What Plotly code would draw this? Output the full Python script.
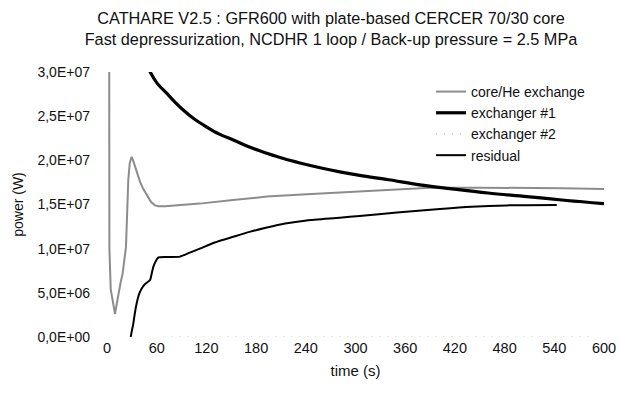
import plotly.graph_objects as go

# ---- data ----
x_ticks = [0, 60, 120, 180, 240, 300, 360, 420, 480, 540, 600]
y_ticks = [0, 5e6, 1e7, 1.5e7, 2e7, 2.5e7, 3e7]
y_tick_labels = ["0,0E+00", "5,0E+06", "1,0E+07", "1,5E+07", "2,0E+07", "2,5E+07", "3,0E+07"]

core_t = [2.6, 2.9, 4.5, 7.0, 9.7, 11.5, 13.7, 16.5, 18.9, 21.0, 22.9, 24.5, 25.7, 27.5, 29.8,
          31.5, 33.8, 36.5, 39.8, 43.5, 47.9, 53.0, 58.0, 62.0, 70.0, 84.0, 112.0, 152.0, 193.0,
          241.0, 281.0, 305.0, 350.0, 390.0, 450.0, 500.0, 550.0, 600.0]
core_p = [4.0e7, 1.0e7, 5.4e6, 3.8e6, 2.6e6, 3.6e6, 4.95e6, 6.2e6, 7.2e6, 8.6e6, 1.02e7, 1.45e7, 1.78e7, 1.97e7, 2.04e7,
          2.0e7, 1.93e7, 1.85e7, 1.76e7, 1.68e7, 1.61e7, 1.53e7, 1.49e7, 1.48e7, 1.48e7, 1.49e7, 1.51e7, 1.55e7, 1.59e7,
          1.615e7, 1.635e7, 1.645e7, 1.67e7, 1.69e7, 1.69e7, 1.69e7, 1.685e7, 1.675e7]

ex1_t = [51.0, 60.0, 72.0, 82.0, 92.0, 105.0, 120.0, 135.0, 152.5, 172.0, 193.0, 213.0, 233.0, 260.0,
         281.0, 305.0, 340.0, 380.0, 414.0, 460.0, 507.0, 555.0, 600.0]
ex1_p = [3.02e7, 2.88e7, 2.76e7, 2.66e7, 2.57e7, 2.47e7, 2.38e7, 2.30e7, 2.23e7, 2.15e7, 2.08e7, 2.02e7, 1.97e7, 1.91e7,
         1.87e7, 1.83e7, 1.78e7, 1.72e7, 1.68e7, 1.63e7, 1.59e7, 1.545e7, 1.51e7]

ex2_t = [68.0, 585.0]
ex2_p = [0.0, 0.0]

res_t = [28.6, 30.0, 31.8, 33.8, 35.8, 38.5, 41.9, 46.0, 52.0, 54.0, 56.0, 59.0, 62.0, 75.0, 88.0,
         100.0, 112.0, 130.0, 152.5, 172.0, 193.0, 215.0, 241.0, 281.0, 305.0, 350.0, 402.0, 440.0, 482.5, 543.0]
res_p = [0.0, 7e5, 1.55e6, 2.8e6, 3.8e6, 4.8e6, 5.5e6, 6.0e6, 6.45e6, 7.2e6, 7.96e6, 8.6e6, 9.0e6, 9.05e6, 9.1e6,
         9.55e6, 1.0e7, 1.07e7, 1.135e7, 1.19e7, 1.24e7, 1.285e7, 1.32e7, 1.35e7, 1.37e7, 1.41e7, 1.45e7, 1.475e7, 1.49e7, 1.494e7]

FONT = "Liberation Sans, Arial, sans-serif"

fig = go.Figure()
fig.add_trace(go.Scatter(x=core_t, y=core_p, mode="lines", name="core/He exchange",
                         line=dict(color="#8c8c8c", width=2)))
fig.add_trace(go.Scatter(x=ex1_t, y=ex1_p, mode="lines", name="exchanger #1",
                         line=dict(color="#000000", width=3.2, shape="spline")))
fig.add_trace(go.Scatter(x=ex2_t, y=ex2_p, mode="lines", name="exchanger #2",
                         line=dict(color="#b0b0b0", width=1, dash="1px,7px")))
fig.add_trace(go.Scatter(x=res_t, y=res_p, mode="lines", name="residual",
                         line=dict(color="#000000", width=2, shape="spline", smoothing=0.6)))

fig.update_layout(
    width=621, height=400,
    paper_bgcolor="white", plot_bgcolor="white",
    margin=dict(l=107, r=17, t=72, b=63, autoexpand=False),
    font=dict(family=FONT, size=14, color="#111111"),
    title=dict(
        text="CATHARE V2.5 : GFR600 with plate-based CERCER 70/30 core<br>"
             "Fast depressurization, NCDHR 1 loop / Back-up pressure = 2.5 MPa",
        x=0.533, xanchor="center", y=0.94, yanchor="top",
        font=dict(family=FONT, size=16.3, color="#111111"),
    ),
    showlegend=True,
    legend=dict(x=0.652, y=0.985, xanchor="left", yanchor="top",
                bgcolor="rgba(0,0,0,0)", font=dict(family=FONT, size=14),
                tracegroupgap=0, itemwidth=30),
    xaxis=dict(range=[0, 600], tickvals=x_ticks, ticktext=[str(v) for v in x_ticks],
               showgrid=False, zeroline=False, showline=False, ticks="", automargin=False,
               title=dict(text="time (s)", standoff=10, font=dict(size=15)),
               tickfont=dict(size=14.5)),
    yaxis=dict(range=[0, 3e7], tickvals=y_ticks, ticktext=y_tick_labels,
               showgrid=False, zeroline=False, showline=False, ticks="", automargin=False,
               ticklabelstandoff=16,
               title=dict(text="power (W)", standoff=10, font=dict(size=14)),
               tickfont=dict(size=14)),
)

fig.write_html("out.html", config={"displayModeBar": False},
               post_script="document.body.style.margin='0';document.body.style.padding='0';")
